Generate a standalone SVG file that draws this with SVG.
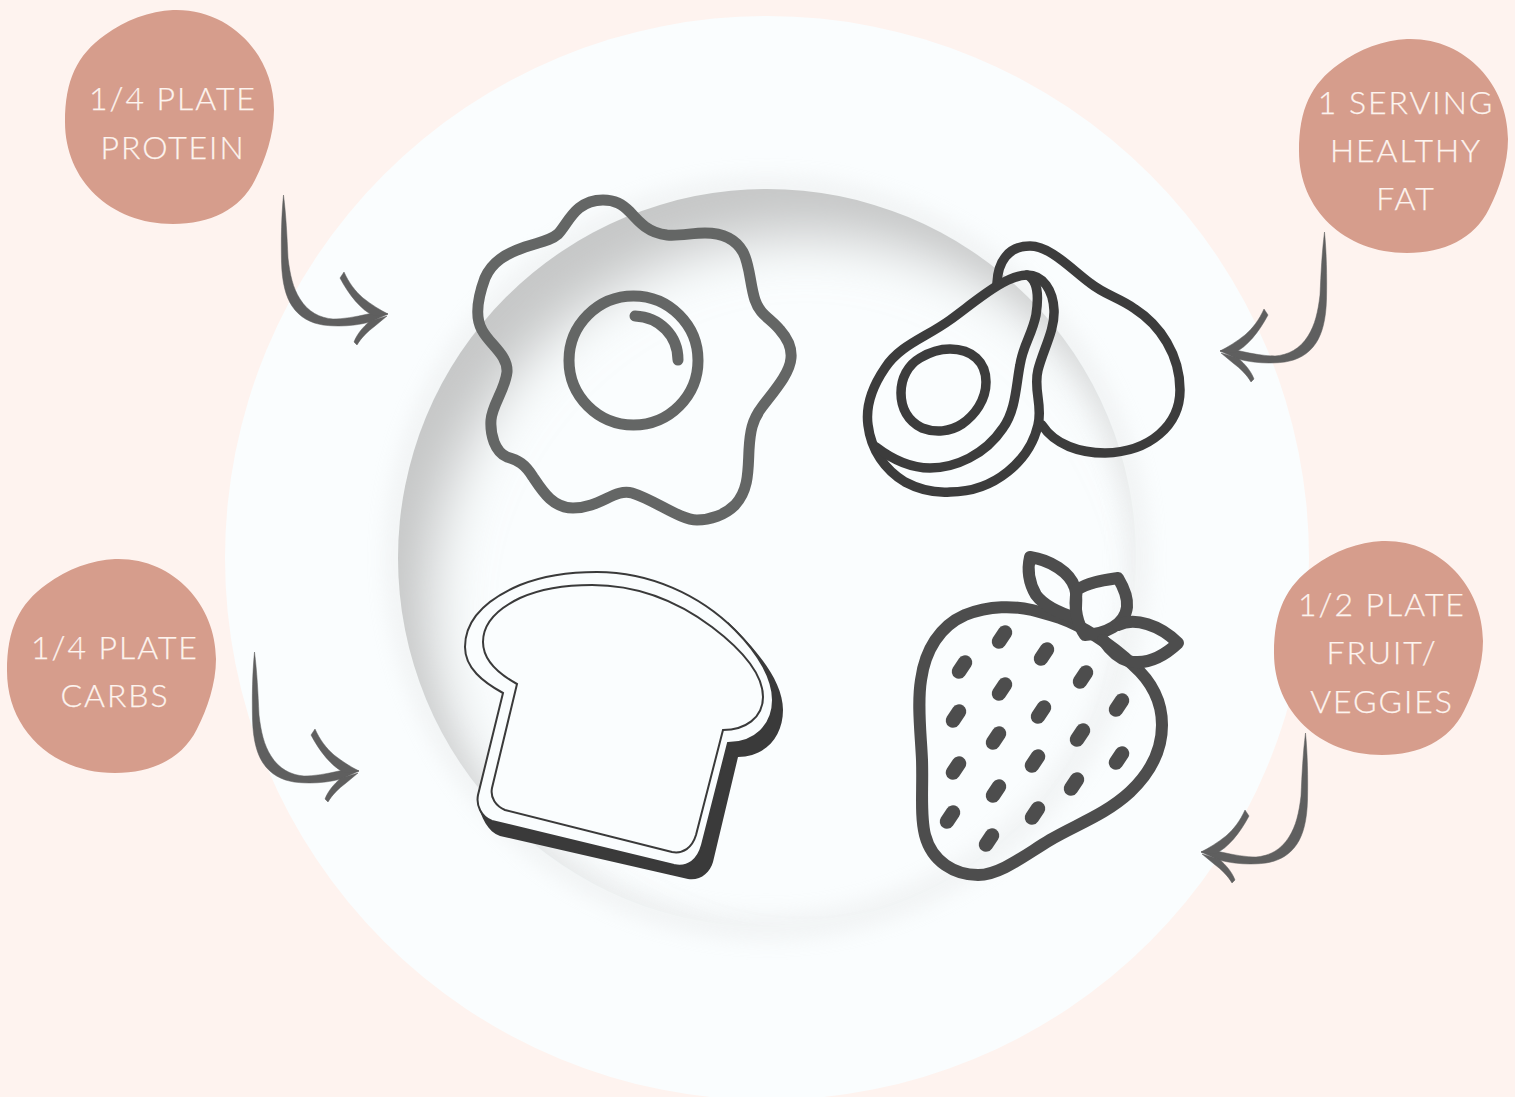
<svg xmlns="http://www.w3.org/2000/svg" xmlns:xlink="http://www.w3.org/1999/xlink" width="1515" height="1097" viewBox="0 0 1515 1097">
<style>
.lbl{font-family:"Lato","Liberation Sans",sans-serif;font-weight:300;font-size:32px;letter-spacing:1.95px;fill:#fdf4ef;text-anchor:middle;stroke:#fdf4ef;stroke-width:.25}
.blob{fill:#d69d8c}
.arrow{fill:#5f5f5f;stroke:#5f5f5f;stroke-width:.5;stroke-linejoin:round}
.egg{fill:none;stroke:#646665;stroke-width:11;stroke-linecap:round;stroke-linejoin:round}
.avo{fill:none;stroke:#3c3c3c;stroke-width:9.5;stroke-linecap:round;stroke-linejoin:round}
.bread{fill:#fafdfe;stroke:#3a3a3a;stroke-width:2;stroke-linejoin:miter}
.berry{fill:none;stroke:#4d4d4d;stroke-width:12;stroke-linecap:round;stroke-linejoin:round}
.seed{fill:none;stroke:#4d4d4d;stroke-width:14.5;stroke-linecap:round}
</style>
<defs>
<path id="blobShape" d="M108 0C165-2 209 45 209 100C209 125 200 150 190 170C175 200 145 214 108 214C45 214 0 170 0 112C0 70 12 45 40 25C60 10 85 1 108 0Z"/>
<g id="arrowShape">
<path d="M283.500 195C281.500 215 281 240 281.500 262C282 283 286 297 292 306C300 318 311 323 323 325C338 327 355 326 370 322L388 314C382 312 375 313 368 314C355 317 343 319 333 319C320 318 308 312 300 299C293 288 290 275 288 258C287 235 286 215 283.500 195Z"/>
<path d="M340 278L344 272C349 283 355 291 363 298C372 305 380 310 388 314L374 316C361 310 349 295 340 278Z"/>
<path d="M354 342L357 345C361 338 367 332 375 326L387 316L370 321C363 327 357 334 354 342Z"/>
</g>
<path id="seedShape" d="M-3 4.500L3-4.500"/>
<clipPath id="wellClip"><circle cx="767" cy="558" r="369"/></clipPath>
<filter id="blur1" x="-30%" y="-30%" width="160%" height="160%"><feGaussianBlur stdDeviation="28"/></filter>
<filter id="blur2" x="-30%" y="-30%" width="160%" height="160%"><feGaussianBlur stdDeviation="11"/></filter>
</defs>
<rect width="1515" height="1097" fill="#fef3ef"/>
<g id="plate">
<circle cx="767" cy="558" r="542" fill="#fafdfe"/>
<circle cx="767" cy="558" r="369" fill="none" stroke="#d8d8d8" stroke-width="22" filter="url(#blur2)" opacity=".3"/>
<g clip-path="url(#wellClip)">
<path d="M250 50H1300V1090H250ZM1180 610A375 375 0 1 0 430 610A375 375 0 1 0 1180 610Z" fill="#c6c7c7" fill-rule="evenodd" filter="url(#blur1)"/>
</g>
</g>
<g id="connectors">
<use xlink:href="#arrowShape" href="#arrowShape" class="arrow"/>
<use xlink:href="#arrowShape" href="#arrowShape" class="arrow" transform="translate(-29 457)"/>
<use xlink:href="#arrowShape" href="#arrowShape" class="arrow" transform="translate(1608 37) scale(-1 1)"/>
<use xlink:href="#arrowShape" href="#arrowShape" class="arrow" transform="translate(1589 538) scale(-1 1)"/>
</g>
<g id="egg">
<path class="egg" d="M603 200C615 200 622 204 630 212C638 221 648 233 667 235C680 236 692 233 705 233C722 233 735 238 743 252C750 265 750 285 755 300C760 315 770 318 780 330C788 339 792 347 791 358C790 373 775 390 762 407C752 420 750 432 749 450C748 470 749 490 735 505C725 515 710 520 697 520C680 520 655 500 632 493C615 488 600 508 573 508C553 508 543 492 533 477C525 464 518 460 507 457C495 452 490 435 491 420C492 405 505 390 507 372C508 355 490 345 482 330C474 316 478 297 485 278C492 262 505 254 525 247C540 242 550 241 558 234C568 224 575 200 603 200Z"/>
<circle class="egg" cx="633.500" cy="360.500" r="64.500" stroke-width="11.500"/>
<path class="egg" d="M635 316C660 317 678 336 678 360"/>
</g>
<g id="avocado">
<path class="avo" d="M997 283C998 262 1008 246 1030 246C1050 246 1070 268 1090 283C1105 295 1120 298 1135 309C1160 325 1180 355 1180 390C1180 425 1150 452 1105 453C1080 453 1055 445 1042 425"/>
<path class="avo" d="M1027 275C1005 275 975 302 950 320C925 338 900 345 885 368C870 390 866 410 868 425C871 450 885 470 905 482C920 490 935 493 950 492C995 492 1030 460 1038 425C1043 405 1033 390 1038 370C1043 350 1055 330 1054 310C1053 290 1043 275 1027 275Z"/>
<path class="avo" d="M1027 275C1038 280 1039 295 1036 315C1032 335 1023 345 1020 365C1016 385 1016 410 1003 428C985 455 955 468 930 468C910 468 893 460 876 447"/>
<path class="avo" d="M950 349C972 349 986 362 986 382C986 400 975 415 962 424C950 432 935 433 922 428C908 421 901 408 901 393C901 378 908 365 920 358C930 352 940 349 950 349Z"/>
</g>
<g id="bread">
<path fill="#3a3a3a" d="M728 622C755 648 783 680 783 710C783 737 765 757 738 757L713 862C710 873 700 881 688 879L500 836C488 832 481 818 477 800L600 700Z"/>
<path class="bread" d="M503 693C483 682 465 668 465 647C465 620 485 600 520 585C545 575 570 572 597 572C650 572 700 595 735 630C760 655 773 680 773 700C773 725 755 743 728 743L702 845C698 860 688 868 674 865L492 821C481 817 476 805 478 795Z"/>
<path class="bread" d="M517 684C497 673 483 660 483 642C483 625 495 610 520 598C540 589 565 585 592 585C640 585 680 603 712 627C745 652 763 675 763 697C763 718 745 730 723 730L696 835C692 848 683 854 672 852L505 810C496 806 490 798 492 788Z"/>
</g>
<g id="strawberry">
<path class="berry" d="M1032 610C1015 606 990 605 965 615C940 626 925 650 921 680C917 705 921 735 922 760C923 790 920 815 925 835C932 862 955 875 978 875C1000 875 1025 855 1050 840C1075 825 1105 815 1130 792C1150 773 1162 750 1162 725C1162 700 1150 680 1133 665C1110 643 1080 625 1060 618C1050 615 1040 612 1032 610Z"/>
<path class="berry" d="M1030 557C1050 560 1070 572 1075 588C1078 598 1075 608 1076 618C1060 613 1045 607 1036 595C1029 583 1027 570 1030 557Z"/>
<path class="berry" d="M1077 590C1088 582 1105 580 1118 578C1124 588 1128 597 1127 607C1125 625 1105 634 1085 635C1078 625 1073 608 1077 590Z"/>
<path class="berry" d="M1118 625C1135 617 1160 625 1178 643C1162 658 1145 665 1128 661C1118 658 1110 650 1103 640"/>
<use xlink:href="#seedShape" href="#seedShape" class="seed" x="1002" y="637"/>
<use xlink:href="#seedShape" href="#seedShape" class="seed" x="1044" y="654"/>
<use xlink:href="#seedShape" href="#seedShape" class="seed" x="1083" y="677"/>
<use xlink:href="#seedShape" href="#seedShape" class="seed" x="1119" y="705"/>
<use xlink:href="#seedShape" href="#seedShape" class="seed" x="962" y="667"/>
<use xlink:href="#seedShape" href="#seedShape" class="seed" x="1002" y="689"/>
<use xlink:href="#seedShape" href="#seedShape" class="seed" x="1041" y="712"/>
<use xlink:href="#seedShape" href="#seedShape" class="seed" x="1080" y="735"/>
<use xlink:href="#seedShape" href="#seedShape" class="seed" x="1119" y="758"/>
<use xlink:href="#seedShape" href="#seedShape" class="seed" x="956" y="716"/>
<use xlink:href="#seedShape" href="#seedShape" class="seed" x="996" y="738"/>
<use xlink:href="#seedShape" href="#seedShape" class="seed" x="1035" y="761"/>
<use xlink:href="#seedShape" href="#seedShape" class="seed" x="1074" y="784"/>
<use xlink:href="#seedShape" href="#seedShape" class="seed" x="956" y="768"/>
<use xlink:href="#seedShape" href="#seedShape" class="seed" x="996" y="791"/>
<use xlink:href="#seedShape" href="#seedShape" class="seed" x="1035" y="813"/>
<use xlink:href="#seedShape" href="#seedShape" class="seed" x="950" y="817"/>
<use xlink:href="#seedShape" href="#seedShape" class="seed" x="989" y="840"/>
</g>
<g id="label-protein">
<use xlink:href="#blobShape" href="#blobShape" class="blob" x="65" y="10"/>
<text class="lbl" x="173" y="110">1/4 PLATE</text>
<text class="lbl" x="173" y="159">PROTEIN</text>
</g>
<g id="label-fat">
<use xlink:href="#blobShape" href="#blobShape" class="blob" x="1299" y="39"/>
<text class="lbl" x="1406" y="114">1 SERVING</text>
<text class="lbl" x="1406" y="162">HEALTHY</text>
<text class="lbl" x="1406" y="210">FAT</text>
</g>
<g id="label-carbs">
<use xlink:href="#blobShape" href="#blobShape" class="blob" x="7" y="559"/>
<text class="lbl" x="115" y="659">1/4 PLATE</text>
<text class="lbl" x="115" y="707">CARBS</text>
</g>
<g id="label-fruit">
<use xlink:href="#blobShape" href="#blobShape" class="blob" x="1274" y="541"/>
<text class="lbl" x="1382" y="616">1/2 PLATE</text>
<text class="lbl" x="1382" y="664">FRUIT/</text>
<text class="lbl" x="1382" y="713">VEGGIES</text>
</g>
</svg>
